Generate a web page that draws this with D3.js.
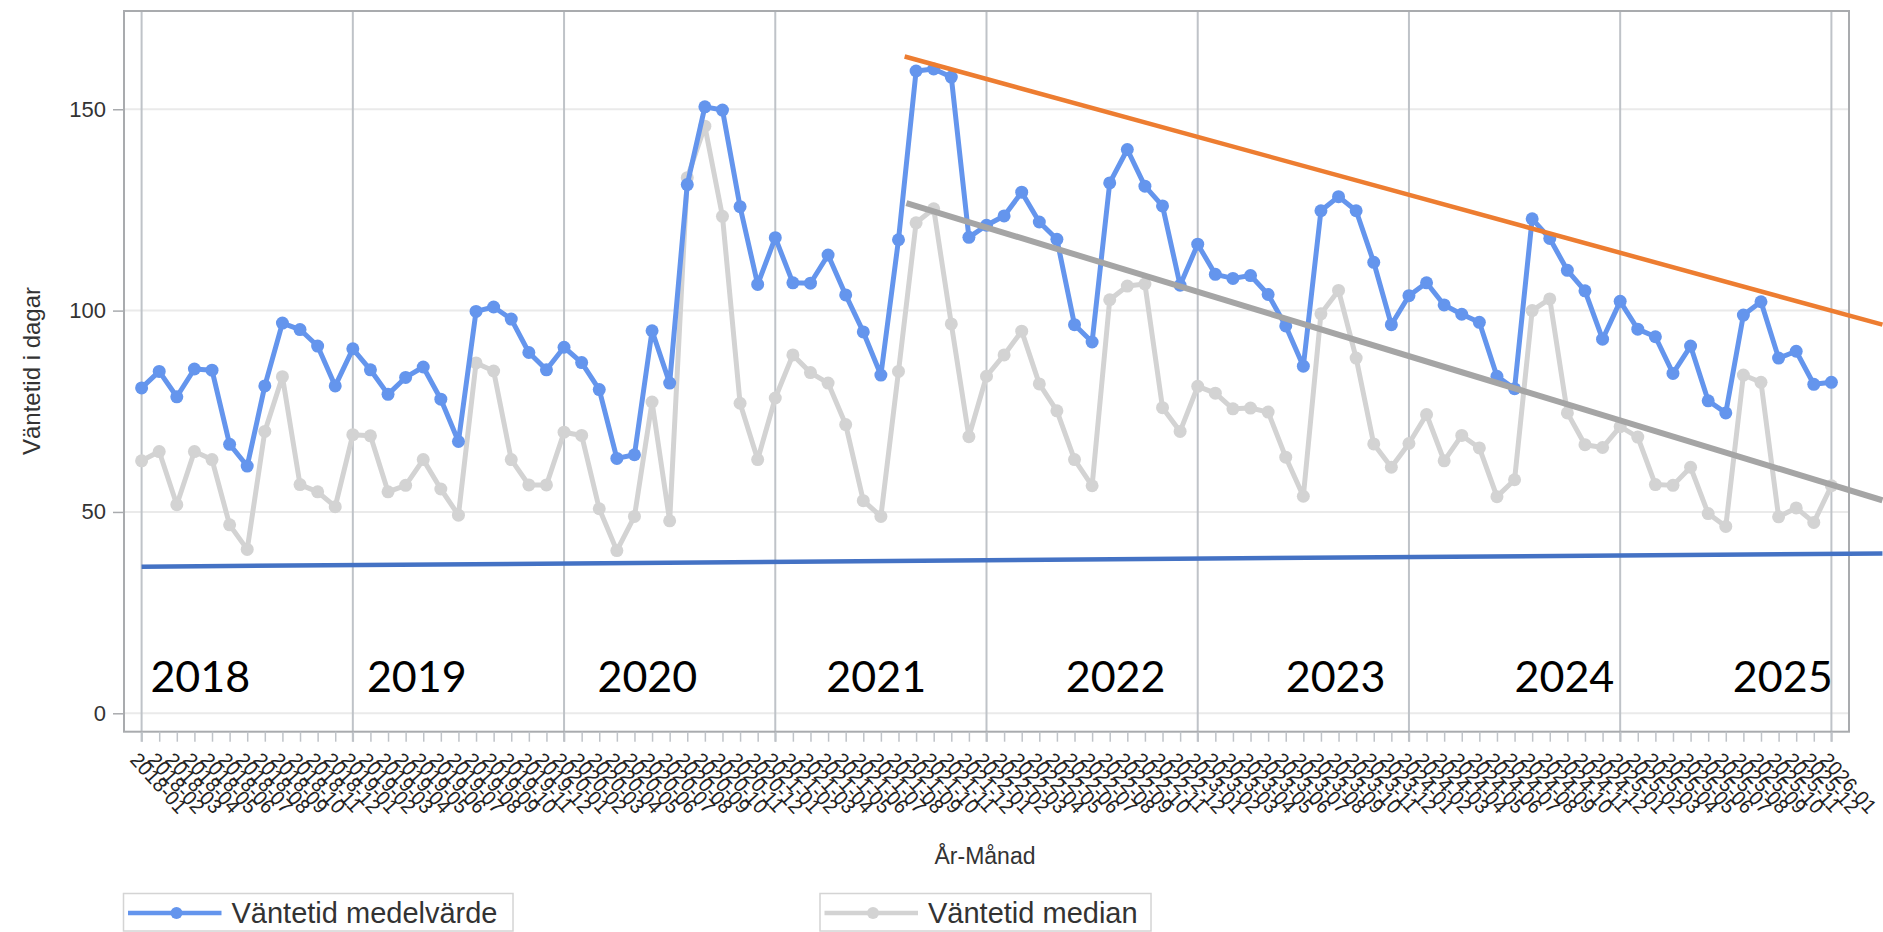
<!DOCTYPE html>
<html>
<head>
<meta charset="utf-8">
<script src="https://cdn.jsdelivr.net/npm/d3@7"></script>
<style>
  html, body { margin: 0; padding: 0; background: #ffffff; }
  svg { display: block; }
</style>
</head>
<body>
<svg id="chart" width="1883" height="932"></svg>
<script>
const categories = [
  "2018-01","2018-02","2018-03","2018-04","2018-05","2018-06","2018-07","2018-08","2018-09","2018-10","2018-11","2018-12",
  "2019-01","2019-02","2019-03","2019-04","2019-05","2019-06","2019-07","2019-08","2019-09","2019-10","2019-11","2019-12",
  "2020-01","2020-02","2020-03","2020-04","2020-05","2020-06","2020-07","2020-08","2020-09","2020-10","2020-11","2020-12",
  "2021-01","2021-02","2021-03","2021-04","2021-05","2021-06","2021-07","2021-08","2021-09","2021-10","2021-11","2021-12",
  "2022-01","2022-02","2022-03","2022-04","2022-05","2022-06","2022-07","2022-08","2022-09","2022-10","2022-11","2022-12",
  "2023-01","2023-02","2023-03","2023-04","2023-05","2023-06","2023-07","2023-08","2023-09","2023-10","2023-11","2023-12",
  "2024-01","2024-02","2024-03","2024-04","2024-05","2024-06","2024-07","2024-08","2024-09","2024-10","2024-11","2024-12",
  "2025-01","2025-02","2025-03","2025-04","2025-05","2025-06","2025-07","2025-08","2025-09","2025-10","2025-11","2025-12",
  "2026-01"
];

const meanValues = [
  80.8, 84.9, 78.6, 85.5, 85.2, 66.8, 61.4, 81.3, 96.9, 95.3, 91.2, 81.3,
  90.5, 85.3, 79.2, 83.4, 86.0, 78.0, 67.5, 99.8, 100.9, 97.9, 89.6, 85.3,
  90.9, 87.1, 80.4, 63.3, 64.2, 95.0, 82.0, 131.3, 150.6, 149.8, 125.8, 106.5,
  118.1, 106.9, 106.8, 113.8, 103.9, 94.7, 84.0, 117.6, 159.5, 160.0, 158.0, 118.2,
  121.2, 123.5, 129.4, 122.0, 117.7, 96.5, 92.2, 131.7, 140.0, 130.9, 126.0, 106.3,
  116.5, 109.0, 108.0, 108.7, 104.0, 96.2, 86.2, 124.8, 128.3, 124.8, 112.0, 96.5,
  103.7, 106.9, 101.4, 99.1, 97.1, 83.7, 80.6, 122.8, 117.9, 110.0, 104.9, 92.9,
  102.3, 95.4, 93.5, 84.4, 91.2, 77.6, 74.6, 98.9, 102.2, 88.2, 89.9, 81.7,
  82.2
];

const medianValues = [
  62.7, 65.0, 51.8, 65.0, 63.0, 46.8, 40.7, 70.0, 83.6, 56.8, 55.0, 51.3,
  69.2, 68.9, 55.0, 56.6, 63.0, 55.7, 49.2, 87.0, 85.0, 63.0, 56.7, 56.7,
  69.8, 69.0, 50.8, 40.4, 48.9, 77.3, 47.8, 133.0, 145.8, 123.4, 77.0, 63.0,
  78.3, 89.0, 84.6, 82.0, 71.7, 52.8, 48.9, 84.9, 121.8, 125.3, 96.7, 68.7,
  83.7, 89.0, 94.9, 81.8, 75.1, 63.0, 56.5, 102.7, 106.1, 106.6, 75.9, 70.0,
  81.2, 79.5, 75.6, 75.8, 74.8, 63.6, 53.9, 99.2, 105.0, 88.2, 66.9, 61.1,
  67.0, 74.2, 62.7, 69.0, 65.9, 53.8, 58.0, 100.0, 102.9, 74.6, 66.7, 66.0,
  71.2, 68.6, 56.8, 56.6, 61.1, 49.6, 46.4, 84.0, 82.2, 48.8, 51.0, 47.4,
  56.5
];

const yTicks = [0, 50, 100, 150];
const yearTickIndex = [0, 12, 24, 36, 48, 60, 72, 84, 96];

// Year annotations (text + position along the month axis)
const yearLabels = ["2018", "2019", "2020", "2021", "2022", "2023", "2024", "2025"];
const yearLabelMonth = [0.5, 12.8, 25.9, 38.9, 52.5, 65.0, 78.0, 90.4];

// Hand-drawn trend lines: [monthIndex, value] endpoints
const trendOrange = [[43.35, 163.1], [98.9, 96.5]];
const trendGrey = [[43.45, 126.7], [98.9, 52.9]];
const trendBlue = [[0, 36.4], [98.9, 39.7]];

const seriesNames = ["Väntetid medelvärde", "Väntetid median"];

// ---------------------------------------------------------------
const svg = d3.select("#chart");
const plot = { left: 124, right: 1849, top: 11, bottom: 731.7 };

const x = d3.scaleLinear().domain([-1, 97]).range([plot.left, plot.right]);
const y = d3.scaleLinear().domain([-4.57, 174.4]).range([plot.bottom, plot.top]);

const BLUE = "#6495ED";
const GREY = "#D3D3D3";
const FONT = "'Liberation Sans', Arial, sans-serif";

// Horizontal gridlines
svg.append("g").selectAll("line").data(yTicks).join("line")
  .attr("x1", plot.left).attr("x2", plot.right)
  .attr("y1", d => y(d)).attr("y2", d => y(d))
  .attr("stroke", "#EAEAEA").attr("stroke-width", 2);

// Vertical gridlines at January
svg.append("g").selectAll("line").data(yearTickIndex).join("line")
  .attr("x1", d => x(d)).attr("x2", d => x(d))
  .attr("y1", plot.top).attr("y2", plot.bottom + 10)
  .attr("stroke", "#BFC3C8").attr("stroke-width", 2);

// Frame
svg.append("rect")
  .attr("x", plot.left).attr("y", plot.top)
  .attr("width", plot.right - plot.left).attr("height", plot.bottom - plot.top)
  .attr("fill", "none").attr("stroke", "#A9ABAE").attr("stroke-width", 2);

// Y axis
const yAxis = svg.append("g")
  .attr("transform", `translate(${plot.left},0)`)
  .call(d3.axisLeft(y).tickValues(yTicks).tickSize(11).tickPadding(7));
yAxis.select(".domain").remove();
yAxis.selectAll("line").attr("stroke", "#A9ABAE").attr("stroke-width", 1.5);
yAxis.selectAll("text").attr("font-family", FONT).attr("font-size", 22).attr("fill", "#333");

// X axis
const xAxis = svg.append("g")
  .attr("transform", `translate(0,${plot.bottom})`)
  .call(d3.axisBottom(x).tickValues(d3.range(categories.length))
        .tickFormat(i => categories[i]).tickSize(10));
xAxis.select(".domain").remove();
xAxis.selectAll("line").attr("stroke", "#BFC3C8").attr("stroke-width", 1.5);
xAxis.selectAll("text")
  .attr("font-family", FONT).attr("font-size", 20).attr("fill", "#222")
  .attr("x", 0).attr("y", 0).attr("dy", "0.35em")
  .attr("text-anchor", "start")
  .attr("transform", "translate(-8,24) rotate(48)");

// Axis titles
svg.append("text")
  .attr("transform", `translate(32,371) rotate(-90)`)
  .attr("text-anchor", "middle").attr("dy", "0.35em")
  .attr("font-family", FONT).attr("font-size", 24).attr("fill", "#333")
  .text("Väntetid i dagar");

svg.append("text")
  .attr("x", 985).attr("y", 864)
  .attr("text-anchor", "middle")
  .attr("font-family", FONT).attr("font-size", 23).attr("fill", "#333")
  .text("År-Månad");

// Series
const line = d3.line().x((d, i) => x(i)).y(d => y(d));

function drawSeries(values, color) {
  const g = svg.append("g");
  g.append("path").datum(values)
    .attr("d", line).attr("fill", "none")
    .attr("stroke", color).attr("stroke-width", 5)
    .attr("stroke-linejoin", "round");
  g.selectAll("circle").data(values).join("circle")
    .attr("cx", (d, i) => x(i)).attr("cy", d => y(d))
    .attr("r", 6.5).attr("fill", color);
}
drawSeries(medianValues, GREY);
drawSeries(meanValues, BLUE);

// Trend lines
const tline = d3.line().x(d => x(d[0])).y(d => y(d[1]));
svg.append("path").datum(trendBlue).attr("d", tline)
  .attr("stroke", "#4472C4").attr("stroke-width", 4.5).attr("fill", "none");
svg.append("path").datum(trendGrey).attr("d", tline)
  .attr("stroke", "#A5A5A5").attr("stroke-width", 6).attr("fill", "none");
svg.append("path").datum(trendOrange).attr("d", tline)
  .attr("stroke", "#ED7D31").attr("stroke-width", 4.5).attr("fill", "none");

// Year labels
svg.append("g").selectAll("text").data(yearLabels).join("text")
  .attr("x", (d, i) => x(yearLabelMonth[i]))
  .attr("y", 692)
  .attr("font-family", "Lato, 'Open Sans', sans-serif")
  .attr("font-size", 43).attr("fill", "#000")
  .text(d => d);

// Legend
const legendItems = [
  { name: seriesNames[0], color: BLUE, box: [123.5, 513] },
  { name: seriesNames[1], color: GREY, box: [820, 1151] }
];
const lg = svg.append("g").selectAll("g").data(legendItems).join("g");
lg.append("rect")
  .attr("x", d => d.box[0]).attr("y", 893.5)
  .attr("width", d => d.box[1] - d.box[0]).attr("height", 37.5)
  .attr("fill", "#fff").attr("stroke", "#D4D4D4").attr("stroke-width", 1.5);
lg.append("line")
  .attr("x1", d => d.box[0] + 4.5).attr("x2", d => d.box[0] + 98)
  .attr("y1", 913).attr("y2", 913)
  .attr("stroke", d => d.color).attr("stroke-width", 4.5);
lg.append("circle")
  .attr("cx", d => d.box[0] + 53).attr("cy", 913).attr("r", 6)
  .attr("fill", d => d.color);
lg.append("text")
  .attr("x", d => d.box[0] + 108).attr("y", 922.5)
  .attr("font-family", FONT).attr("font-size", 29).attr("fill", "#333")
  .text(d => d.name);
</script>
</body>
</html>
